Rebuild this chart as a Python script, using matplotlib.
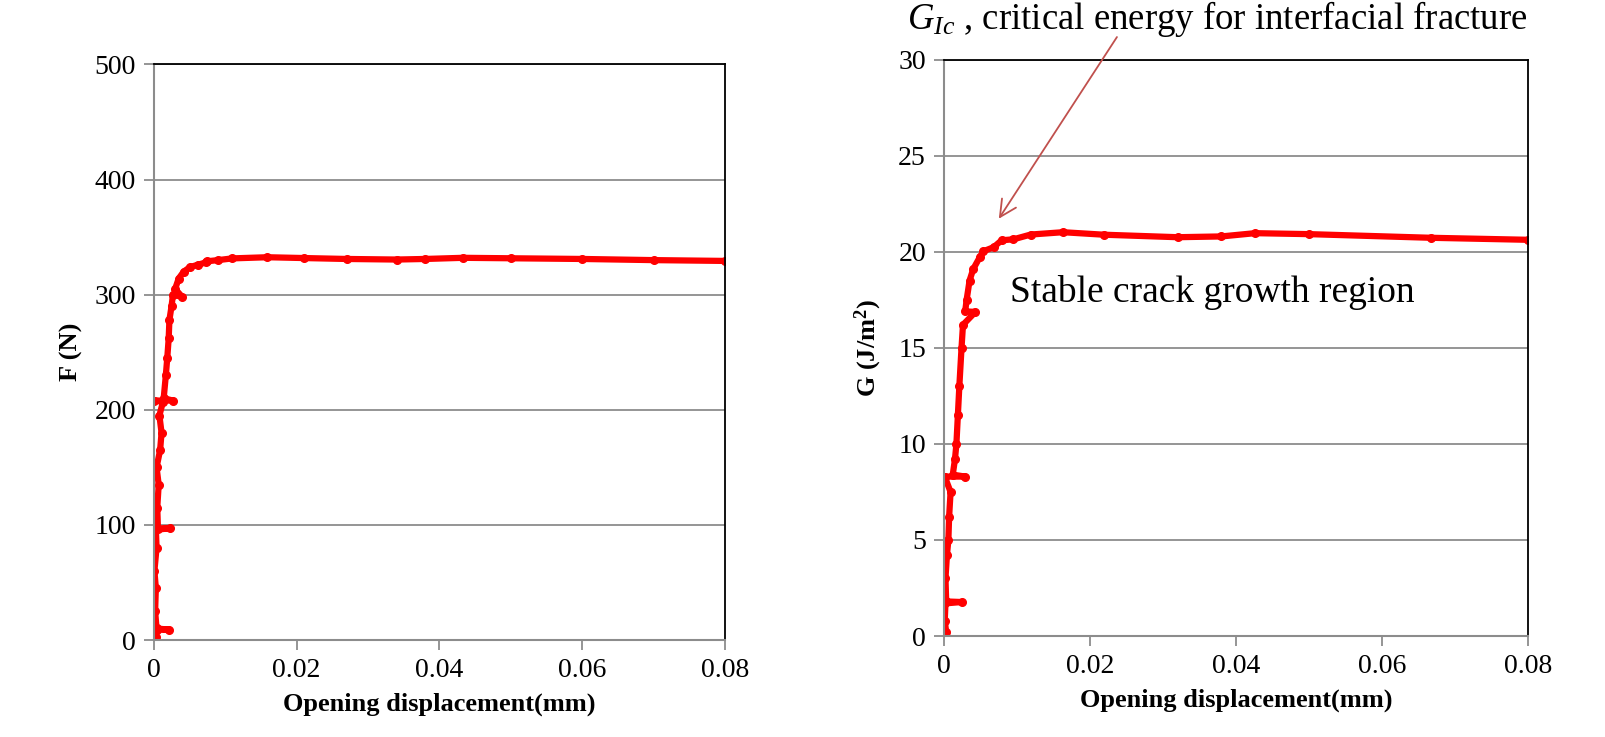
import matplotlib.pyplot as plt

plt.rcParams['font.family'] = ['Liberation Serif', 'DejaVu Serif']
plt.rcParams['mathtext.fontset'] = 'custom'
plt.rcParams['mathtext.rm'] = 'Liberation Serif'
plt.rcParams['mathtext.it'] = 'Liberation Serif:italic'
plt.rcParams['mathtext.bf'] = 'Liberation Serif:bold'

# opening displacement (mm) vs load F (N)
f_disp = [0, 0.0003, 0.0001, 0.0004, 0.0022, 0.0004, 0.0002, 0.0003, 0.0001, 0.0004,
          0.0003, 0.0023, 0.0006, 0.0005, 0.0007, 0.0004, 0.0009, 0.0011, 0.0008, 0.0013,
          0.0, 0.0027, 0.0014, 0.0017, 0.0019, 0.0021, 0.0022, 0.0025, 0.0027, 0.0040,
          0.0030, 0.0035, 0.0042, 0.0051, 0.0062, 0.0073, 0.0075, 0.009, 0.011, 0.0159,
          0.021, 0.027, 0.034, 0.038, 0.0433, 0.05, 0.06, 0.07, 0.08]
f_load = [0, 3, 8, 9, 9, 10, 25, 45, 60, 80,
          97, 97, 96, 115, 135, 150, 165, 180, 195, 207,
          208, 208, 210, 230, 245, 262, 278, 290, 300, 298,
          305, 314, 320, 324, 326, 328, 329, 330, 331.5, 332.5,
          331.8, 331, 330.5, 331, 332, 331.6, 331, 330, 329.3]

# opening displacement (mm) vs energy release rate G (J/m2)
g_disp = [0, 0.0003, 0.0001, 0.0002, 0.0024, 0.0003, 0.0002, 0.0004, 0.0006, 0.0007,
          0.0009, 0.0001, 0.0029, 0.0012, 0.0015, 0.0017, 0.0019, 0.0021, 0.0024, 0.0026,
          0.0043, 0.0029, 0.0031, 0.0035, 0.004, 0.0049, 0.0054, 0.0068, 0.0079, 0.0095,
          0.0119, 0.0163, 0.0219, 0.032, 0.038, 0.0426, 0.05, 0.0667, 0.08]
g_energy = [0, 0.2, 0.8, 1.7, 1.77, 1.8, 3, 4.2, 5, 6.2,
            7.5, 8.3, 8.3, 8.4, 9.2, 10, 11.5, 13, 15, 16.2,
            16.87, 16.9, 17.5, 18.5, 19.1, 19.72, 20.03, 20.24, 20.6, 20.65,
            20.9, 21.02, 20.89, 20.76, 20.8, 20.97, 20.92, 20.73, 20.625]

x_ticks = [0, 0.02, 0.04, 0.06, 0.08]
x_labels = ['0', '0.02', '0.04', '0.06', '0.08']


def style_axes(ax, yticks):
    ax.set_xlim(0, 0.08)
    ax.set_ylim(yticks[0], yticks[-1])
    ax.set_xticks(x_ticks)
    ax.set_xticklabels(x_labels)
    ax.set_yticks(yticks)
    ax.grid(axis='y', color='#8c8c8c', linewidth=1.3)
    ax.set_axisbelow(True)
    for s in ['left', 'bottom']:
        ax.spines[s].set_color('#8c8c8c')
        ax.spines[s].set_linewidth(1.5)
    for s in ['top', 'right']:
        ax.spines[s].set_color('black')
        ax.spines[s].set_linewidth(1.3)
    ax.tick_params(direction='out', length=7, width=1.3, color='#8c8c8c',
                   labelsize=20, pad=6)
    ax.set_xlabel('Opening displacement(mm)', fontsize=19, fontweight='bold', labelpad=7)


fig = plt.figure(figsize=(16.06, 7.37), dpi=100)
ax1 = fig.add_axes([0.0957, 0.1316, 0.3558, 0.781])
ax2 = fig.add_axes([0.5878, 0.137, 0.3636, 0.782])

ax1.plot(f_disp, f_load, color='#ff0000', lw=4.5, marker='o', ms=5.5, solid_capstyle='round')
style_axes(ax1, [0, 100, 200, 300, 400, 500])
ax1.set_ylabel('F (N)', fontsize=19, fontweight='bold', labelpad=8)

ax2.plot(g_disp, g_energy, color='#ff0000', lw=4.5, marker='o', ms=5.5, solid_capstyle='round')
style_axes(ax2, [0, 5, 10, 15, 20, 25, 30])
ax2.set_ylabel('G (J/m$^\\mathbf{2}$)', fontsize=19, fontweight='bold', labelpad=10)

ax2.text(0.0799, 31.6, '$G_{Ic}$ , critical energy for interfacial fracture',
         fontsize=26.5, ha='right', va='baseline', clip_on=False)
ax2.annotate('', xy=(0.0073, 21.6), xytext=(0.0239, 31.3),
             arrowprops=dict(arrowstyle='->', color='#c0504d', lw=1.3,
                             mutation_scale=30), annotation_clip=False)
ax2.text(0.0091, 17.38, 'Stable crack growth region', fontsize=27,
         ha='left', va='baseline')

fig.savefig('out.png', dpi=100)
